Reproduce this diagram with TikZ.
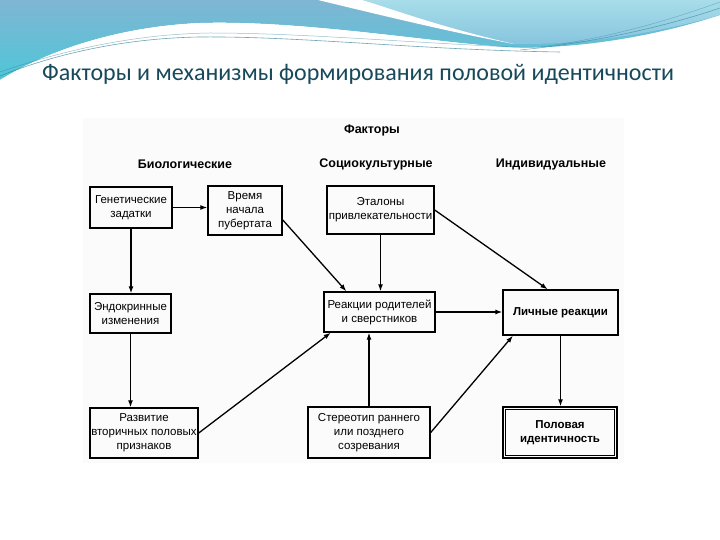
\documentclass[tikz,border=0pt]{standalone}
\usepackage{fontspec}
\setmainfont{Liberation Sans}
\newfontfamily\titlefont{Carlito}
\usetikzlibrary{arrows.meta,calc}
\definecolor{titlecol}{HTML}{17495B}
\definecolor{wavea}{HTML}{7FB6D3}
\definecolor{waveb}{HTML}{4FC6D8}
\definecolor{wavec}{HTML}{A8DDE9}
\definecolor{waved}{HTML}{86C4DE}
\definecolor{waveline}{HTML}{2F7F95}
\definecolor{scanbg}{HTML}{FBFBFB}
\begin{document}
\begin{tikzpicture}[x=1pt,y=-1pt,
  box/.style={draw, line width=1.4pt, rectangle, align=center, inner sep=0.5pt,
    font=\fontsize{11.5}{14}\selectfont},
  boldbox/.style={box, font=\bfseries\fontsize{11.5}{14}\selectfont},
  hdr/.style={inner sep=0pt, font=\bfseries\fontsize{12.5}{15}\selectfont},
  conn/.style={line width=1.3pt, -{Latex[length=7pt,width=5pt]}}]
\useasboundingbox (0,0) rectangle (720,540);
\fill[white] (0,0) rectangle (720,540);
% decorative waves
\shade[top color=wavea, bottom color=waveb]
  (0,0) -- (720,0) -- (720,15) .. controls (650,38) and (570,50) .. (505,47)
  .. controls (430,42) and (300,20) .. (200,23)
  .. controls (110,27) and (40,55) .. (0,80) -- cycle;
\shade[top color=wavec, bottom color=waved]
  (350,0) -- (720,0) -- (720,15) .. controls (650,35) and (580,45) .. (512,44)
  .. controls (450,30) and (390,10) .. (350,0) -- cycle;
\fill[white] (318,0) .. controls (380,15) and (450,32) .. (514,44)
  .. controls (440,27) and (392,9) .. (362,0) -- cycle;
\fill[white] (0,80) .. controls (40,55) and (110,27) .. (200,23)
  .. controls (300,20) and (430,42) .. (505,47)
  .. controls (430,47) and (300,30) .. (200,31)
  .. controls (110,34) and (40,62) .. (0,88) -- cycle;
\draw[waveline, line width=0.6pt, opacity=0.7]
  (0,76) .. controls (60,52) and (130,38) .. (200,37)
  .. controls (300,36) and (420,50) .. (560,52);
\draw[waveline, line width=0.5pt, opacity=0.5]
  (0,72) .. controls (70,48) and (140,34) .. (210,33)
  .. controls (310,33) and (420,44) .. (540,48);
\draw[waveline, line width=0.6pt, opacity=0.6]
  (520,50) .. controls (600,42) and (670,25) .. (720,8);
\draw[waveline, line width=0.4pt, opacity=0.5]
  (540,47) .. controls (610,38) and (670,20) .. (720,2);
% title
\node[anchor=base west, inner sep=0pt, text=titlecol,
  font=\titlefont\fontsize{24}{28}\selectfont] (title) at (42,81)
  {Факторы и механизмы формирования половой идентичности};
% scanned area
\fill[scanbg] (83,118) rectangle (624,463);
% headers
\node[hdr] (hf) at (372,130) {Факторы};
\node[hdr] (hb) at (185,164) {Биологические};
\node[hdr] (hs) at (376,164) {Социокультурные};
\node[hdr] (hi) at (551,164) {Индивидуальные};
% boxes
\node[box, minimum width=82, minimum height=41] (gen) at (131,207.5) {Генетические\\задатки};
\node[box, minimum width=74, minimum height=49] (vrem) at (245,210.5) {Время\\начала\\пубертата};
\node[box, minimum width=107, minimum height=48] (etal) at (380.5,210) {Эталоны\\привлекательности};
\node[box, minimum width=81, minimum height=39] (endo) at (130.5,313.5) {Эндокринные\\изменения};
\node[box, minimum width=111, minimum height=40] (reak) at (379.5,312) {Реакции родителей\\и сверстников};
\node[boldbox, minimum width=115, minimum height=45] (lich) at (560.5,312.5) {Личные реакции};
\node[box, minimum width=108, minimum height=50] (razv) at (144,433) {Развитие\\вторичных половых\\признаков};
\node[box, minimum width=122, minimum height=51] (ster) at (369,432.5) {Стереотип раннего\\или позднего\\созревания};
\node[boldbox, minimum width=114, minimum height=51] (pol) at (560,432.5) {Половая\\идентичность};
\draw[line width=0.8pt] ($(pol.south west)+(3.5,-3.5)$) rectangle ($(pol.north east)+(-3.5,3.5)$);
% connectors
\draw[conn] (gen.east) -- (gen.east -| vrem.west);
\draw[conn] (gen.south) -- (gen.south |- endo.north);
\draw[conn] (endo.south) -- (endo.south |- razv.north);
\draw[conn] (vrem.-14) -- (reak.148);
\draw[conn] (etal.south) -- (etal.south |- reak.north);
\draw[conn] (etal.east) -- (lich.119);
\draw[conn] (razv.east) -- (reak.-157);
\draw[conn] (ster.north) -- (ster.north |- reak.south);
\draw[conn] (ster.east) -- (lich.-154);
\draw[conn] (reak.east) -- (reak.east -| lich.west);
\draw[conn] (lich.south) -- (lich.south |- pol.north);
\end{tikzpicture}
\end{document}
